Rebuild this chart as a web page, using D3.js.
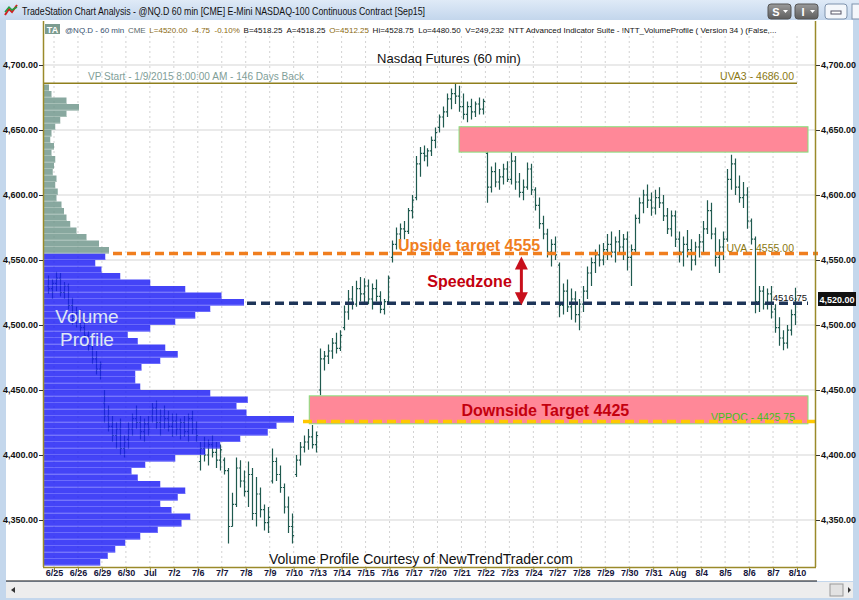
<!DOCTYPE html>
<html>
<head>
<meta charset="utf-8">
<script src="https://cdn.jsdelivr.net/npm/d3@7"></script>
<style>
  body { margin: 0; background: #fff; }
  svg { display: block; font-family: "Liberation Sans", Arial, sans-serif; }
</style>
</head>
<body>
<div id="chart"></div>
<script>
const W = 859;
const H = 600;
const PLOT_L = 44;
const PLOT_R = 815;
const PLOT_T = 21;
const PLOT_B = 567;

// session labels on the time axis (one per trading day)
const dayLabels = ['6/25', '6/26', '6/29', '6/30', 'Jul', '7/2', '7/6', '7/7', '7/8', '7/9', '7/10',
  '7/13', '7/14', '7/15', '7/16', '7/17', '7/20', '7/21', '7/22', '7/23', '7/24', '7/27', '7/28',
  '7/29', '7/30', '7/31', 'Aug', '8/4', '8/5', '8/6', '8/7', '8/10'];

// last bars of the 6/24 session, [open, high, low, close]
const preBars = [[4530, 4538, 4524, 4528], [4528, 4535, 4520, 4532]];

// 60 min bars per session, [open, high, low, close]
const sessionBars = [
  [[4532,4541,4526,4536],[4536,4540,4522,4525],[4525,4533,4520,4530],[4530,4532,4512,4515],[4515,4521,4500,4505],[4505,4514,4498,4510]],
  [[4510,4512,4495,4498],[4498,4506,4488,4492],[4492,4495,4480,4484],[4484,4488,4470,4474],[4474,4480,4462,4466],[4466,4472,4458,4470]],
  [[4440,4450,4425,4430],[4430,4438,4418,4422],[4422,4430,4410,4415],[4415,4425,4405,4420],[4420,4428,4400,4405],[4405,4415,4398,4410]],
  [[4412,4425,4405,4420],[4420,4432,4415,4428],[4428,4438,4420,4425],[4425,4430,4412,4418],[4418,4428,4410,4424],[4424,4430,4415,4420]],
  [[4430,4440,4425,4436],[4436,4442,4420,4425],[4425,4435,4415,4430],[4430,4438,4420,4428],[4428,4434,4418,4422],[4422,4432,4414,4426]],
  [[4426,4432,4415,4420],[4420,4428,4412,4425],[4425,4430,4414,4418],[4418,4432,4410,4428],[4428,4434,4416,4420],[4420,4426,4410,4415]],
  [[4395,4410,4388,4405],[4405,4414,4395,4400],[4400,4412,4392,4408],[4408,4415,4398,4402],[4402,4410,4390,4396],[4396,4408,4388,4404]],
  [[4396,4398,4385,4388],[4388,4390,4332,4345],[4345,4371,4345,4362],[4362,4398,4360,4390],[4390,4396,4375,4380],[4380,4388,4368,4372]],
  [[4372,4395,4360,4385],[4385,4390,4350,4355],[4355,4383,4345,4370],[4370,4375,4352,4358],[4358,4362,4342,4348],[4348,4360,4340,4352]],
  [[4380,4405,4378,4395],[4395,4398,4380,4385],[4385,4392,4371,4375],[4375,4378,4355,4360],[4360,4368,4340,4345],[4345,4355,4332,4338]],
  [[4385,4400,4383,4396],[4396,4410,4392,4406],[4406,4415,4402,4410],[4410,4420,4404,4414],[4414,4423,4405,4408],[4408,4418,4402,4415]],
  [[4450,4482,4446,4474],[4474,4480,4465,4476],[4476,4485,4470,4480],[4480,4490,4474,4486],[4486,4494,4478,4482],[4482,4496,4480,4492]],
  [[4498,4515,4496,4510],[4510,4527,4504,4520],[4520,4530,4512,4516],[4516,4534,4514,4528],[4528,4537,4518,4524],[4524,4536,4516,4530]],
  [[4530,4535,4516,4520],[4520,4532,4512,4528],[4528,4535,4518,4522],[4522,4526,4509,4512],[4512,4520,4508,4518],[4518,4538,4516,4536]],
  [[4552,4565,4548,4562],[4562,4575,4558,4570],[4570,4578,4564,4574],[4574,4580,4566,4572],[4572,4590,4570,4588],[4588,4600,4582,4596]],
  [[4598,4630,4596,4624],[4624,4637,4614,4632],[4632,4638,4626,4630],[4630,4636,4622,4634],[4634,4645,4630,4642],[4642,4652,4636,4648]],
  [[4652,4662,4648,4660],[4660,4668,4652,4664],[4664,4678,4660,4674],[4674,4682,4666,4678],[4678,4686,4670,4676],[4676,4684,4664,4668]],
  [[4668,4678,4658,4662],[4662,4672,4656,4668],[4668,4674,4658,4664],[4664,4672,4660,4670],[4670,4675,4662,4666],[4666,4674,4662,4672]],
  [[4632,4637,4594,4606],[4606,4622,4602,4618],[4618,4625,4606,4610],[4610,4620,4604,4614],[4614,4624,4608,4620],[4620,4626,4610,4612]],
  [[4612,4633,4608,4626],[4626,4630,4604,4610],[4610,4617,4598,4602],[4602,4612,4596,4606],[4606,4625,4604,4620],[4620,4624,4600,4604]],
  [[4604,4606,4588,4592],[4592,4598,4574,4578],[4578,4584,4566,4570],[4570,4574,4552,4556],[4556,4566,4545,4562],[4562,4568,4550,4554]],
  [[4546,4548,4506,4515],[4515,4532,4508,4526],[4526,4535,4510,4514],[4514,4528,4504,4520],[4520,4526,4502,4508],[4508,4520,4496,4516]],
  [[4516,4530,4510,4526],[4526,4545,4520,4540],[4540,4552,4530,4548],[4548,4558,4540,4554],[4554,4562,4545,4550],[4550,4563,4546,4558]],
  [[4558,4570,4550,4562],[4562,4572,4552,4556],[4556,4568,4548,4564],[4564,4573,4554,4560],[4560,4570,4550,4566],[4566,4572,4542,4552]],
  [[4552,4562,4530,4558],[4558,4585,4556,4582],[4582,4598,4578,4594],[4594,4604,4586,4600],[4600,4608,4590,4596],[4596,4602,4584,4590]],
  [[4590,4604,4585,4598],[4598,4606,4590,4594],[4594,4600,4580,4584],[4584,4590,4570,4574],[4574,4588,4568,4584],[4584,4588,4560,4566]],
  [[4566,4572,4548,4556],[4556,4568,4545,4562],[4562,4573,4552,4558],[4558,4566,4542,4550],[4550,4564,4546,4560],[4560,4570,4552,4564]],
  [[4564,4580,4556,4574],[4574,4596,4570,4588],[4588,4594,4566,4570],[4570,4575,4545,4552],[4552,4566,4540,4560],[4560,4572,4550,4566]],
  [[4566,4620,4564,4612],[4612,4631,4604,4624],[4624,4628,4600,4606],[4606,4615,4594,4598],[4598,4610,4590,4600],[4600,4606,4574,4580]],
  [[4580,4582,4562,4566],[4566,4568,4509,4518],[4518,4530,4510,4526],[4526,4530,4512,4516],[4516,4528,4512,4524],[4524,4530,4505,4510]],
  [[4512.25,4516,4494,4498],[4498,4506,4484,4490],[4490,4496,4480.5,4486],[4486,4500,4482,4496],[4496,4512,4492,4508],[4508,4528.75,4500,4520]]
];

const priceTicks = [4350, 4400, 4450, 4500, 4550, 4600, 4650, 4700];

// volume profile: [bin low price, relative volume], bins are 5 points tall
const profileBins = [
  [4680,2],[4675,3],[4670,9],[4665,14],[4660,9],[4655,6.5],[4650,4.5],[4645,3],[4640,2.5],[4635,4],
  [4630,3],[4625,4.5],[4620,4],[4615,3.5],[4610,5],[4605,4.5],[4600,5.5],[4595,5],[4590,7],[4585,8],
  [4580,9],[4575,10.5],[4570,13],[4565,17],[4560,22],[4555,26],
  [4550,24.5],[4545,20.5],[4540,23],[4535,30.5],[4530,42.5],[4525,56.5],[4520,71],[4515,80],[4510,66.5],
  [4505,60.5],[4500,52.5],[4495,42.5],[4490,33.5],[4485,37.5],[4480,48.5],[4475,53.5],[4470,46.5],
  [4465,39],[4460,36.5],[4455,36.5],[4450,38.5],[4445,66.5],[4440,81.5],[4435,77],[4430,81],[4425,100],
  [4420,93],[4415,89.5],[4410,78.5],[4405,70.5],[4400,64.5],[4395,52.5],[4390,40.5],[4385,35],[4380,37.5],
  [4375,46.5],[4370,56.5],[4365,53.5],[4360,46.5],[4355,51],[4350,58.5],[4345,55],[4340,45.5],[4335,38.5],
  [4330,32.5],[4325,28.5],[4320,25.5],[4315,22.5]
];

// header quote line, drawn as coloured segments
const headerParts = [
  {t: '@NQ.D - 60 min', c: '#36506e'},
  {t: 'CME', c: '#5a6a6a'},
  {t: 'L=4520.00  -4.75  -0.10%', c: '#8a6a10'},
  {t: 'B=4518.25  A=4518.25', c: '#111'},
  {t: 'O=4512.25', c: '#8a6a10'},
  {t: 'Hi=4528.75  Lo=4480.50  V=249,232  NTT Advanced Indicator Suite - !NTT_VolumeProfile ( Version 34 ) (False,...', c: '#111'}
];

const VP_START = 4686;
const UVA = 4555;
const SPEED_LOW = 4516.75;
const VPPOC = 4425.75;
const LAST = 4520;
const upperZone = [4633, 4652.5];
const lowerZone = [4424, 4445.5];

let svg;
const font = '"Liberation Sans", Arial, sans-serif';

const yScale = d3.scaleLinear().domain([4350, 4700]).range([520, 65]);
const dayX = d3.scaleLinear().domain([0, 31]).range([54, 797]);
const volX = d3.scaleLinear().domain([0, 100]).range([PLOT_L, 294]);
const BARS_PER_DAY = 6;

function barX(day, j) {
  return dayX(day + (j + 0.5) / BARS_PER_DAY);
}

function drawChrome() {
  let defs = svg.append('defs');
  let grad = defs.append('linearGradient').attr('id', 'titleGrad')
    .attr('x1', 0).attr('y1', 0).attr('x2', 0).attr('y2', 1);
  grad.append('stop').attr('offset', 0).attr('stop-color', '#dfeaf7');
  grad.append('stop').attr('offset', 1).attr('stop-color', '#c3d6ec');

  let btn = defs.append('linearGradient').attr('id', 'btnGrad')
    .attr('x1', 0).attr('y1', 0).attr('x2', 0).attr('y2', 1);
  btn.append('stop').attr('offset', 0).attr('stop-color', '#9a9a9a');
  btn.append('stop').attr('offset', 1).attr('stop-color', '#5e5e5e');

  defs.append('filter').attr('id', 'blur')
    .attr('x', '-2%').attr('y', '-300%').attr('width', '104%').attr('height', '700%')
    .append('feGaussianBlur').attr('stdDeviation', 1.6);

  defs.append('clipPath').attr('id', 'plotClip')
    .append('rect').attr('x', PLOT_L).attr('y', PLOT_T)
    .attr('width', PLOT_R - PLOT_L).attr('height', PLOT_B - PLOT_T);

  // window frame
  svg.append('rect').attr('width', W).attr('height', H).attr('fill', '#c4d7ec');
  svg.append('rect').attr('x', 6).attr('y', 20).attr('width', 847).attr('height', 561).attr('fill', '#fff');
  svg.append('rect').attr('width', W).attr('height', 20).attr('fill', 'url(#titleGrad)');

  // title bar icon
  svg.append('path').attr('d', 'M5,15 L9,9 L12,12 L17,5').attr('fill', 'none')
    .attr('stroke', '#d02020').attr('stroke-width', 2);
  svg.append('path').attr('d', 'M5,12 L9,7 L12,10 L17,7').attr('fill', 'none')
    .attr('stroke', '#20a040').attr('stroke-width', 1.5);

  svg.append('text').attr('x', 22).attr('y', 15)
    .attr('font-size', 11.5).attr('fill', '#111')
    .attr('textLength', 403).attr('lengthAdjust', 'spacingAndGlyphs')
    .text('TradeStation Chart Analysis - @NQ.D 60 min [CME] E-Mini NASDAQ-100 Continuous Contract [Sep15]');

  [{x: 768, t: 'S'}, {x: 795, t: 'I'}].forEach((b) => {
    svg.append('rect').attr('x', b.x).attr('y', 4).attr('width', 23).attr('height', 15)
      .attr('rx', 3).attr('fill', 'url(#btnGrad)').attr('stroke', '#555');
    svg.append('text').attr('x', b.x + 8).attr('y', 15.5).attr('text-anchor', 'middle')
      .attr('font-size', 11).attr('font-weight', 'bold').attr('fill', '#fff').text(b.t);
    svg.append('path').attr('d', `M${b.x + 15},10 l5,0 l-2.5,3 z`).attr('fill', '#fff');
  });
  svg.append('rect').attr('x', 825).attr('y', 4).attr('width', 22).attr('height', 15)
    .attr('rx', 3).attr('fill', '#f4f7fb').attr('stroke', '#7f93ad');
  svg.append('rect').attr('x', 831).attr('y', 11).attr('width', 10).attr('height', 3)
    .attr('fill', '#fff').attr('stroke', '#556');
  svg.append('rect').attr('x', 852).attr('y', 4).attr('width', 10).attr('height', 15)
    .attr('fill', '#f4f7fb').attr('stroke', '#7f93ad');

  // bottom scroll bar
  svg.append('rect').attr('x', 6).attr('y', 582).attr('width', 847).attr('height', 16).attr('fill', '#ededed');
  svg.append('line').attr('x1', 6).attr('x2', 817).attr('y1', 581).attr('y2', 581)
    .attr('stroke', '#111').attr('stroke-width', 1);
  svg.append('path').attr('d', 'M11,590 l4,-3 l0,6 z').attr('fill', '#333');
  svg.append('rect').attr('x', 830).attr('y', 584).attr('width', 13).attr('height', 12)
    .attr('fill', '#e2e2e2').attr('stroke', '#999');
  svg.append('path').attr('d', 'M848,587 l3,3 l-3,3 z').attr('fill', '#333');
}

function drawHeader() {
  svg.append('rect').attr('x', 45).attr('y', 24).attr('width', 15).attr('height', 10)
    .attr('fill', '#7c9c90');
  svg.append('text').attr('x', 52.5).attr('y', 32.5).attr('text-anchor', 'middle')
    .attr('font-size', 9).attr('font-weight', 'bold').attr('fill', '#fff').text('TA');

  // measure at 10px, then scale the font so the line spans x 65..777
  const START = 65, END = 777, GAP = 0.45;
  let probe = svg.append('g');
  let widths = headerParts.map((p) => {
    let t = probe.append('text').attr('font-size', 10).attr('xml:space', 'preserve').text(p.t);
    return t.node().getComputedTextLength();
  });
  probe.remove();
  let total = d3.sum(widths) + GAP * 10 * (headerParts.length - 1);
  let k = (END - START) / total;
  let size = 10 * k;
  let x = START;
  headerParts.forEach((p, i) => {
    svg.append('text').attr('x', x).attr('y', 32.5).attr('font-size', size)
      .attr('xml:space', 'preserve').attr('fill', p.c).text(p.t);
    x += widths[i] * k + GAP * size;
  });
}

function drawGrid() {
  let g = svg.append('g').attr('class', 'gridGroup');
  g.selectAll('.hgrid').data(priceTicks).enter().append('line')
    .attr('x1', PLOT_L).attr('x2', PLOT_R)
    .attr('y1', (d) => yScale(d)).attr('y2', (d) => yScale(d))
    .attr('stroke', '#e3e3e3').attr('stroke-width', 1.5);
  g.selectAll('.vgrid').data(dayLabels).enter().append('line')
    .attr('x1', (d, i) => dayX(i)).attr('x2', (d, i) => dayX(i))
    .attr('y1', 36).attr('y2', PLOT_B)
    .attr('stroke', '#d2d2d2').attr('stroke-dasharray', '2,3');
}

function barPath(b, x) {
  let [o, h, l, c] = b;
  return `M${x},${yScale(h)}V${yScale(l)}M${x - 1.6},${yScale(o)}H${x}M${x},${yScale(c)}H${x + 1.6}`;
}

function drawBars() {
  let g = svg.append('g').attr('class', 'barGroup').attr('clip-path', 'url(#plotClip)');
  let all = [];
  preBars.forEach((b, j) => all.push({b: b, x: barX(-1, j + BARS_PER_DAY - preBars.length)}));
  sessionBars.forEach((day, k) => {
    day.forEach((b, j) => all.push({b: b, x: barX(k, j)}));
  });
  g.selectAll('path').data(all).enter().append('path')
    .attr('d', (d) => barPath(d.b, Math.round(d.x) + 0.5))
    .attr('fill', 'none').attr('stroke', '#1f5a4f').attr('stroke-width', 1.2);
}

function drawProfile() {
  let g = svg.append('g').attr('class', 'profileGroup').attr('opacity', 0.82);
  g.selectAll('rect').data(profileBins).enter().append('rect')
    .attr('x', PLOT_L)
    .attr('y', (d) => yScale(d[0] + 5))
    .attr('width', (d) => volX(d[1]) - PLOT_L)
    .attr('height', (d) => yScale(d[0]) - yScale(d[0] + 5))
    .attr('fill', (d) => d[0] >= UVA ? '#6f968a' : '#1c1cf6');
  // thin row lines like the original histogram
  g.selectAll('line').data(profileBins).enter().append('line')
    .attr('x1', PLOT_L).attr('x2', (d) => volX(d[1]))
    .attr('y1', (d) => yScale(d[0]) - 0.5).attr('y2', (d) => yScale(d[0]) - 0.5)
    .attr('stroke', (d) => d[0] >= UVA ? '#9db8ae' : '#5a5aff').attr('stroke-width', 0.8);

  svg.append('text').attr('x', 87).attr('y', 323).attr('text-anchor', 'middle')
    .attr('font-size', 19).attr('fill', '#dfe6f4').text('Volume');
  svg.append('text').attr('x', 87).attr('y', 346).attr('text-anchor', 'middle')
    .attr('font-size', 19).attr('fill', '#dfe6f4').text('Profile');
}

function drawAxes() {
  // plot frame
  svg.append('line').attr('x1', PLOT_L - 0.5).attr('x2', PLOT_L - 0.5).attr('y1', PLOT_T).attr('y2', PLOT_B)
    .attr('stroke', '#9a8a2a').attr('stroke-width', 1.5);
  svg.append('line').attr('x1', PLOT_R + 0.5).attr('x2', PLOT_R + 0.5).attr('y1', PLOT_T).attr('y2', PLOT_B)
    .attr('stroke', '#9a8a2a').attr('stroke-width', 1.5);

  let fmt = d3.format(',.2f');
  let right = d3.axisRight(yScale).tickValues(priceTicks).tickFormat(fmt).tickSize(4).tickSizeOuter(0);
  let rg = svg.append('g').attr('transform', `translate(${PLOT_R + 1},0)`).call(right);
  rg.select('.domain').remove();
  rg.selectAll('text').attr('font-family', font).attr('font-size', 9).attr('font-weight', 'bold')
    .attr('fill', '#111').attr('x', 5);
  rg.selectAll('line').attr('stroke', '#333');

  let left = d3.axisLeft(yScale).tickValues(priceTicks).tickFormat(fmt).tickSize(4).tickSizeOuter(0);
  let lg = svg.append('g').attr('transform', `translate(${PLOT_L - 1},0)`).call(left);
  lg.select('.domain').remove();
  lg.selectAll('text').attr('font-family', font).attr('font-size', 9).attr('font-weight', 'bold')
    .attr('fill', '#111').attr('x', -5);
  lg.selectAll('line').attr('stroke', '#333');

  // last price marker
  svg.append('rect').attr('x', 818).attr('y', yScale(LAST) - 7).attr('width', 38).attr('height', 14)
    .attr('fill', '#111');
  svg.append('text').attr('x', 837).attr('y', yScale(LAST) + 3.5).attr('text-anchor', 'middle')
    .attr('font-size', 9).attr('font-weight', 'bold').attr('fill', '#fff').text(fmt(LAST));

  let bottom = d3.axisBottom(dayX).tickValues(d3.range(dayLabels.length))
    .tickFormat((i) => dayLabels[i]).tickSize(5).tickSizeOuter(0);
  let bg = svg.append('g').attr('transform', `translate(0,${PLOT_B})`).call(bottom);
  bg.select('.domain').attr('d', `M${PLOT_L - 1},0.5H${PLOT_R + 1}`).attr('stroke', '#9a8a2a').attr('stroke-width', 1.5);
  bg.selectAll('line').attr('stroke', '#9a8a2a');
  bg.selectAll('text').attr('font-family', font).attr('font-size', 9).attr('font-weight', 'bold')
    .attr('fill', '#14143c').attr('dy', '0.55em').attr('y', 4);
}

function dashedLevel(price, x1, x2, color) {
  let y = yScale(price);
  svg.append('line').attr('x1', x1).attr('x2', x2 + 3).attr('y1', y + 5.5).attr('y2', y + 5.5)
    .attr('stroke', '#9a9a9a').attr('stroke-width', 4.5).attr('stroke-dasharray', '9,5')
    .attr('filter', 'url(#blur)').attr('opacity', 0.8);
  return svg.append('line').attr('x1', x1).attr('x2', x2).attr('y1', y).attr('y2', y)
    .attr('stroke', color).attr('stroke-width', 3.5).attr('stroke-dasharray', '9,5');
}

function drawAnnotations() {
  // value profile start line
  svg.append('line').attr('x1', PLOT_L).attr('x2', 797)
    .attr('y1', yScale(VP_START)).attr('y2', yScale(VP_START))
    .attr('stroke', '#8f7f1c').attr('stroke-width', 1.5);
  svg.append('text').attr('x', 88).attr('y', 79.5).attr('font-size', 10.5).attr('fill', '#7f9e98')
    .attr('textLength', 216).attr('lengthAdjust', 'spacingAndGlyphs')
    .text('VP Start - 1/9/2015 8:00:00 AM - 146 Days Back');
  svg.append('text').attr('x', 794).attr('y', 80).attr('text-anchor', 'end')
    .attr('font-size', 10.5).attr('fill', '#8a7812').text('UVA3 - 4686.00');

  svg.append('text').attr('x', 449).attr('y', 63).attr('text-anchor', 'middle')
    .attr('font-size', 13).attr('fill', '#111').text('Nasdaq Futures (60 min)');

  // target zones
  [upperZone, lowerZone].forEach((z, i) => {
    let x0 = i === 0 ? dayX(16.9) : dayX(10.65);
    svg.append('rect').attr('x', x0).attr('y', yScale(z[1]))
      .attr('width', 808 - x0).attr('height', yScale(z[0]) - yScale(z[1]))
      .attr('fill', '#ff8898').attr('stroke', '#84e27a').attr('stroke-width', 1);
  });
  svg.append('text').attr('x', dayX(20.5)).attr('y', 416).attr('text-anchor', 'middle')
    .attr('font-size', 16).attr('font-weight', 'bold').attr('fill', '#c4000e')
    .text('Downside Target 4425');

  svg.append('text').attr('x', 794).attr('y', 252).attr('text-anchor', 'end')
    .attr('font-size', 10.5).attr('fill', '#8a7812').text('UVA - 4555.00');
  svg.append('text').attr('x', 795).attr('y', 421).attr('text-anchor', 'end')
    .attr('font-size', 10.5).attr('fill', '#3ec21a').text('VPPOC - 4425.75');
  svg.append('text').attr('x', 807).attr('y', 301).attr('text-anchor', 'end')
    .attr('font-size', 9.5).attr('fill', '#111').text('4516.75');

  dashedLevel(UVA, 113, 818, '#f07e1e');
  dashedLevel(SPEED_LOW, 247, 808, '#1e3558');
  dashedLevel(VPPOC, 303, 819, '#ffc800');

  svg.append('text').attr('x', dayX(14.35)).attr('y', 251).attr('font-size', 16)
    .attr('font-weight', 'bold').attr('fill', '#f07e1e').text('Upside target 4555');
  svg.append('text').attr('x', dayX(19.1)).attr('y', 286.5).attr('text-anchor', 'end')
    .attr('font-size', 16).attr('font-weight', 'bold').attr('fill', '#c4000e').text('Speedzone');

  // speedzone arrow
  let ax = dayX(19.5);
  let yt = yScale(UVA) + 3;
  let yb = yScale(SPEED_LOW) + 2;
  svg.append('line').attr('x1', ax).attr('x2', ax).attr('y1', yt + 10).attr('y2', yb - 10)
    .attr('stroke', '#c8101c').attr('stroke-width', 3);
  svg.append('path').attr('d', `M${ax},${yt} L${ax - 6.5},${yt + 13} L${ax + 6.5},${yt + 13} Z`).attr('fill', '#c8101c');
  svg.append('path').attr('d', `M${ax},${yb} L${ax - 6.5},${yb - 13} L${ax + 6.5},${yb - 13} Z`).attr('fill', '#c8101c');

  svg.append('text').attr('x', 421).attr('y', 564).attr('text-anchor', 'middle')
    .attr('font-size', 14).attr('fill', '#111').text('Volume Profile Courtesy of NewTrendTrader.com');
}

function buildChart(selector) {
  svg = d3.select(selector).append('svg').attr('width', W).attr('height', H);
  drawChrome();
  drawHeader();
  drawGrid();
  drawBars();
  drawProfile();
  drawAnnotations();
  drawAxes();
}

buildChart('#chart');
</script>
</body>
</html>
